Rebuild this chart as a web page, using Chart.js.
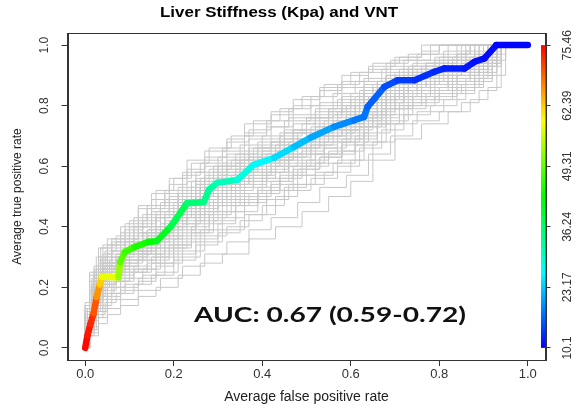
<!DOCTYPE html>
<html><head><meta charset="utf-8">
<script src="https://cdn.jsdelivr.net/npm/chart.js@4.4.1/dist/chart.umd.min.js"></script>
<style>html,body{margin:0;padding:0;background:#fff;} #wrap{width:575px;height:408px;}</style>
</head><body><div id="wrap"><canvas id="c" width="575" height="408"></canvas></div>
<script>
const chartTitle = 'Liver Stiffness (Kpa) and VNT';
const xTitle = 'Average false positive rate';
const yTitle = 'Average true positive rate';
const aucLabel = 'AUC: 0.67 (0.59-0.72)';
const xTickValues = [0, 0.2, 0.4, 0.6, 0.8, 1.0];
const xTickLabels = ['0.0', '0.2', '0.4', '0.6', '0.8', '1.0'];
const yTickValues = [0, 0.2, 0.4, 0.6, 0.8, 1.0];
const yTickLabels = ['0.0', '0.2', '0.4', '0.6', '0.8', '1.0'];
const cutoffTickValues = [10.1, 23.17, 36.24, 49.31, 62.39, 75.46];
const cutoffTickLabels = ['10.1', '23.17', '36.24', '49.31', '62.39', '75.46'];

const mainFpr = [0, 0.005, 0.012, 0.019, 0.026, 0.033, 0.038, 0.075, 0.079, 0.09, 0.113, 0.143, 0.162, 0.193, 0.23, 0.268, 0.28, 0.298, 0.344, 0.381, 0.427, 0.472, 0.51, 0.562, 0.608, 0.63, 0.638, 0.676, 0.706, 0.744, 0.789, 0.812, 0.857, 0.88, 0.902, 0.929, 1.0];
const mainTpr = [0, 0.04, 0.08, 0.114, 0.168, 0.21, 0.235, 0.233, 0.284, 0.317, 0.334, 0.35, 0.353, 0.40, 0.478, 0.482, 0.523, 0.545, 0.555, 0.605, 0.628, 0.664, 0.695, 0.73, 0.752, 0.763, 0.796, 0.862, 0.884, 0.884, 0.912, 0.923, 0.923, 0.945, 0.956, 1.0, 1.0];
const mainCutoff = [75.46, 74.5, 73.5, 72, 68, 64, 60.4, 55, 49.6, 47.2, 45.5, 43.3, 42.2, 39.5, 36, 34.6, 33.3, 31.9, 29.7, 27, 25.1, 23.2, 21.5, 19.9, 18.3, 17.7, 17.2, 15.5, 14.5, 13.6, 12.8, 12.3, 11.7, 11.2, 10.9, 10.4, 10.1];

const bootstrapCurves = [
 [[0,0],[0,0.06],[0.01,0.16],[0.02,0.27],[0.035,0.33],[0.06,0.36],[0.09,0.41],[0.12,0.47],[0.15,0.51],[0.19,0.56],[0.23,0.62],[0.27,0.65],[0.32,0.69],[0.36,0.74],[0.42,0.78],[0.47,0.82],[0.53,0.86],[0.58,0.9],[0.64,0.93],[0.7,0.96],[0.76,0.98],[0.8,1.0],[1,1]],
 [[0,0],[0.01,0.04],[0.03,0.08],[0.05,0.11],[0.08,0.14],[0.12,0.17],[0.16,0.2],[0.21,0.24],[0.26,0.28],[0.31,0.31],[0.37,0.36],[0.43,0.40],[0.49,0.45],[0.55,0.5],[0.6,0.55],[0.65,0.62],[0.7,0.69],[0.76,0.74],[0.82,0.78],[0.87,0.82],[0.91,0.86],[0.94,1.0],[1,1]],
 [[0,0],[0,0.1],[0.015,0.2],[0.03,0.28],[0.05,0.3],[0.08,0.34],[0.11,0.38],[0.15,0.43],[0.19,0.49],[0.24,0.55],[0.29,0.6],[0.34,0.64],[0.39,0.68],[0.45,0.72],[0.5,0.76],[0.56,0.8],[0.62,0.85],[0.68,0.9],[0.73,0.93],[0.79,0.95],[0.84,0.97],[0.87,1.0],[1,1]],
 [[0,0],[0.005,0.08],[0.02,0.15],[0.04,0.19],[0.07,0.22],[0.1,0.25],[0.14,0.28],[0.18,0.32],[0.22,0.37],[0.27,0.41],[0.31,0.45],[0.36,0.5],[0.42,0.55],[0.47,0.59],[0.53,0.63],[0.58,0.67],[0.63,0.73],[0.68,0.79],[0.73,0.82],[0.79,0.85],[0.84,0.88],[0.89,0.92],[0.92,1.0],[1,1]],
 [[0,0],[0,0.09],[0.02,0.21],[0.035,0.26],[0.06,0.28],[0.09,0.33],[0.13,0.37],[0.17,0.41],[0.21,0.46],[0.26,0.52],[0.3,0.57],[0.35,0.6],[0.4,0.64],[0.46,0.68],[0.52,0.72],[0.57,0.76],[0.63,0.82],[0.68,0.88],[0.74,0.91],[0.8,0.93],[0.86,0.95],[0.89,1.0],[1,1]],
 [[0,0],[0.005,0.1],[0.02,0.18],[0.04,0.23],[0.07,0.26],[0.1,0.29],[0.14,0.32],[0.18,0.37],[0.22,0.42],[0.27,0.47],[0.32,0.52],[0.38,0.56],[0.43,0.6],[0.48,0.64],[0.54,0.68],[0.6,0.72],[0.65,0.78],[0.7,0.84],[0.76,0.87],[0.82,0.9],[0.87,0.93],[0.91,0.96],[0.93,1.0],[1,1]],
 [[0,0],[0,0.12],[0.01,0.22],[0.025,0.3],[0.04,0.34],[0.07,0.37],[0.1,0.42],[0.14,0.47],[0.18,0.52],[0.22,0.58],[0.27,0.62],[0.31,0.66],[0.36,0.71],[0.41,0.75],[0.46,0.79],[0.51,0.83],[0.57,0.87],[0.62,0.91],[0.68,0.94],[0.73,0.97],[0.78,1.0],[1,1]],
 [[0,0],[0.01,0.06],[0.025,0.11],[0.045,0.15],[0.07,0.18],[0.11,0.21],[0.15,0.24],[0.2,0.29],[0.25,0.34],[0.3,0.38],[0.35,0.42],[0.4,0.47],[0.45,0.52],[0.51,0.56],[0.57,0.6],[0.62,0.66],[0.67,0.72],[0.72,0.77],[0.78,0.8],[0.84,0.84],[0.88,0.88],[0.92,0.93],[0.94,1.0],[1,1]],
 [[0,0],[0,0.08],[0.02,0.19],[0.04,0.25],[0.065,0.27],[0.09,0.31],[0.13,0.34],[0.17,0.39],[0.22,0.45],[0.26,0.5],[0.31,0.54],[0.37,0.58],[0.42,0.63],[0.48,0.66],[0.53,0.7],[0.59,0.74],[0.64,0.79],[0.69,0.85],[0.75,0.88],[0.81,0.91],[0.86,0.93],[0.9,0.97],[0.92,1.0],[1,1]],
 [[0,0],[0,0.11],[0.015,0.23],[0.03,0.27],[0.05,0.31],[0.08,0.33],[0.12,0.38],[0.16,0.43],[0.2,0.48],[0.24,0.53],[0.28,0.59],[0.33,0.62],[0.38,0.66],[0.44,0.7],[0.49,0.74],[0.55,0.78],[0.6,0.82],[0.66,0.88],[0.72,0.92],[0.77,0.94],[0.83,0.96],[0.88,1.0],[1,1]],
 [[0,0],[0.01,0.1],[0.025,0.17],[0.045,0.21],[0.07,0.24],[0.11,0.27],[0.15,0.3],[0.19,0.34],[0.24,0.4],[0.28,0.44],[0.33,0.48],[0.39,0.53],[0.44,0.57],[0.5,0.62],[0.55,0.65],[0.61,0.7],[0.66,0.76],[0.71,0.81],[0.77,0.84],[0.83,0.87],[0.88,0.9],[0.92,0.94],[0.94,1.0],[1,1]],
 [[0,0],[0,0.14],[0.02,0.25],[0.04,0.31],[0.06,0.34],[0.09,0.39],[0.13,0.44],[0.17,0.48],[0.21,0.53],[0.25,0.58],[0.3,0.63],[0.35,0.67],[0.4,0.7],[0.45,0.75],[0.51,0.8],[0.56,0.84],[0.61,0.88],[0.67,0.92],[0.72,0.95],[0.78,0.97],[0.82,1.0],[1,1]],
 [[0,0],[0.005,0.05],[0.02,0.12],[0.035,0.17],[0.06,0.2],[0.09,0.23],[0.13,0.26],[0.17,0.3],[0.21,0.35],[0.26,0.39],[0.31,0.43],[0.36,0.48],[0.41,0.52],[0.47,0.57],[0.52,0.61],[0.58,0.65],[0.63,0.71],[0.69,0.77],[0.74,0.81],[0.8,0.84],[0.85,0.87],[0.9,0.91],[0.93,1.0],[1,1]],
 [[0,0],[0,0.07],[0.015,0.17],[0.03,0.24],[0.055,0.29],[0.08,0.31],[0.11,0.36],[0.16,0.4],[0.2,0.45],[0.25,0.51],[0.29,0.55],[0.34,0.59],[0.39,0.63],[0.45,0.67],[0.5,0.71],[0.56,0.75],[0.61,0.79],[0.66,0.85],[0.71,0.89],[0.77,0.91],[0.83,0.94],[0.88,0.96],[0.91,1.0],[1,1]],
 [[0,0],[0.005,0.12],[0.02,0.2],[0.04,0.24],[0.06,0.26],[0.1,0.3],[0.14,0.33],[0.19,0.38],[0.23,0.43],[0.28,0.48],[0.33,0.53],[0.38,0.57],[0.43,0.61],[0.49,0.65],[0.54,0.69],[0.6,0.73],[0.65,0.77],[0.7,0.83],[0.76,0.86],[0.82,0.89],[0.87,0.92],[0.91,0.95],[0.93,1.0],[1,1]],
 [[0,0],[0,0.15],[0.01,0.25],[0.03,0.33],[0.05,0.36],[0.08,0.4],[0.12,0.46],[0.16,0.52],[0.2,0.56],[0.24,0.61],[0.28,0.66],[0.33,0.7],[0.38,0.75],[0.44,0.79],[0.49,0.83],[0.54,0.87],[0.6,0.91],[0.65,0.94],[0.71,0.96],[0.76,1.0],[1,1]],
 [[0,0],[0.01,0.05],[0.03,0.1],[0.05,0.13],[0.08,0.16],[0.12,0.19],[0.17,0.23],[0.22,0.27],[0.27,0.31],[0.32,0.35],[0.37,0.39],[0.42,0.43],[0.48,0.48],[0.53,0.53],[0.59,0.57],[0.64,0.64],[0.69,0.7],[0.74,0.75],[0.8,0.78],[0.85,0.81],[0.89,0.85],[0.93,0.9],[0.95,1.0],[1,1]],
 [[0,0],[0,0.13],[0.02,0.22],[0.04,0.28],[0.07,0.31],[0.1,0.35],[0.14,0.39],[0.18,0.44],[0.23,0.5],[0.27,0.56],[0.32,0.6],[0.37,0.63],[0.43,0.67],[0.48,0.71],[0.54,0.75],[0.59,0.8],[0.65,0.86],[0.7,0.9],[0.75,0.92],[0.81,0.95],[0.86,0.97],[0.89,1.0],[1,1]],
 [[0,0],[0.005,0.09],[0.02,0.16],[0.035,0.2],[0.06,0.23],[0.09,0.27],[0.12,0.3],[0.17,0.35],[0.21,0.4],[0.25,0.45],[0.3,0.5],[0.36,0.54],[0.41,0.58],[0.46,0.62],[0.52,0.66],[0.57,0.7],[0.62,0.75],[0.67,0.81],[0.72,0.84],[0.78,0.87],[0.84,0.9],[0.89,0.93],[0.92,0.97],[0.94,1.0],[1,1]],
 [[0,0],[0,0.1],[0.01,0.19],[0.025,0.26],[0.045,0.32],[0.07,0.35],[0.11,0.4],[0.15,0.45],[0.19,0.5],[0.23,0.55],[0.27,0.6],[0.32,0.64],[0.37,0.69],[0.42,0.73],[0.47,0.77],[0.53,0.81],[0.58,0.86],[0.63,0.89],[0.69,0.93],[0.75,0.95],[0.81,0.98],[0.85,1.0],[1,1]],
 [[0,0],[0.01,0.07],[0.03,0.13],[0.05,0.17],[0.08,0.2],[0.12,0.23],[0.16,0.27],[0.2,0.31],[0.25,0.36],[0.3,0.41],[0.34,0.45],[0.39,0.49],[0.45,0.53],[0.5,0.57],[0.56,0.61],[0.61,0.67],[0.66,0.74],[0.72,0.79],[0.77,0.82],[0.83,0.85],[0.88,0.89],[0.91,0.93],[0.93,1.0],[1,1]],
 [[0,0],[0,0.11],[0.015,0.2],[0.035,0.24],[0.06,0.28],[0.1,0.32],[0.15,0.36],[0.19,0.42],[0.23,0.47],[0.28,0.52],[0.33,0.56],[0.38,0.6],[0.44,0.64],[0.49,0.68],[0.55,0.72],[0.6,0.76],[0.66,0.82],[0.71,0.87],[0.76,0.89],[0.82,0.92],[0.87,0.94],[0.9,0.98],[0.92,1.0],[1,1]],
 [[0,0],[0,0.1],[0.02,0.24],[0.04,0.3],[0.06,0.35],[0.1,0.4],[0.14,0.46],[0.18,0.51],[0.22,0.57],[0.26,0.61],[0.31,0.65],[0.36,0.7],[0.41,0.73],[0.46,0.76],[0.52,0.79],[0.57,0.82],[0.63,0.86],[0.68,0.9],[0.74,0.93],[0.8,0.96],[0.85,0.98],[0.87,1.0],[1,1]],
 [[0,0],[0.01,0.08],[0.025,0.14],[0.05,0.18],[0.08,0.22],[0.11,0.25],[0.15,0.28],[0.2,0.33],[0.24,0.38],[0.29,0.42],[0.34,0.47],[0.39,0.51],[0.44,0.56],[0.49,0.61],[0.54,0.66],[0.59,0.71],[0.64,0.77],[0.69,0.83],[0.75,0.87],[0.8,0.9],[0.85,0.93],[0.89,0.96],[0.91,1.0],[1,1]],
 [[0,0],[0,0.06],[0.02,0.16],[0.04,0.26],[0.07,0.29],[0.1,0.34],[0.14,0.37],[0.18,0.4],[0.22,0.46],[0.27,0.51],[0.31,0.56],[0.36,0.59],[0.41,0.62],[0.47,0.66],[0.52,0.7],[0.58,0.73],[0.63,0.78],[0.68,0.84],[0.73,0.87],[0.79,0.9],[0.85,0.92],[0.9,0.95],[0.93,1.0],[1,1]],
 [[0,0],[0.005,0.13],[0.02,0.22],[0.045,0.27],[0.07,0.3],[0.1,0.33],[0.13,0.38],[0.17,0.43],[0.21,0.48],[0.25,0.54],[0.3,0.58],[0.35,0.62],[0.4,0.65],[0.45,0.69],[0.51,0.73],[0.56,0.77],[0.62,0.81],[0.67,0.86],[0.73,0.9],[0.78,0.92],[0.84,0.95],[0.88,0.97],[0.9,1.0],[1,1]],
 [[0,0],[0,0.05],[0.015,0.14],[0.03,0.2],[0.055,0.25],[0.08,0.27],[0.12,0.31],[0.16,0.34],[0.2,0.39],[0.25,0.44],[0.29,0.49],[0.34,0.55],[0.4,0.58],[0.45,0.63],[0.5,0.67],[0.56,0.71],[0.61,0.76],[0.66,0.81],[0.72,0.86],[0.77,0.88],[0.83,0.91],[0.88,0.94],[0.92,0.98],[0.94,1.0],[1,1]],
 [[0,0],[0,0.12],[0.02,0.26],[0.035,0.29],[0.06,0.32],[0.09,0.36],[0.12,0.41],[0.16,0.45],[0.21,0.51],[0.25,0.56],[0.29,0.58],[0.34,0.61],[0.39,0.66],[0.44,0.71],[0.5,0.75],[0.55,0.79],[0.6,0.84],[0.65,0.87],[0.7,0.91],[0.76,0.93],[0.82,0.95],[0.86,0.98],[0.88,1.0],[1,1]],
 [[0,0],[0.01,0.11],[0.025,0.19],[0.05,0.22],[0.08,0.25],[0.12,0.29],[0.16,0.33],[0.2,0.36],[0.25,0.42],[0.3,0.47],[0.35,0.51],[0.4,0.55],[0.46,0.6],[0.51,0.64],[0.57,0.68],[0.62,0.73],[0.67,0.79],[0.72,0.83],[0.78,0.86],[0.83,0.88],[0.88,0.91],[0.92,0.95],[0.94,1.0],[1,1]],
 [[0,0],[0,0.09],[0.015,0.21],[0.04,0.27],[0.06,0.3],[0.09,0.35],[0.13,0.4],[0.17,0.46],[0.21,0.51],[0.26,0.56],[0.31,0.61],[0.36,0.65],[0.42,0.68],[0.47,0.72],[0.53,0.77],[0.58,0.8],[0.63,0.84],[0.69,0.88],[0.74,0.91],[0.8,0.93],[0.85,0.96],[0.88,1.0],[1,1]],
 [[0,0],[0,0.1],[0.01,0.18],[0.03,0.25],[0.05,0.28],[0.08,0.3],[0.11,0.33],[0.15,0.38],[0.2,0.43],[0.24,0.47],[0.28,0.53],[0.33,0.57],[0.38,0.61],[0.43,0.65],[0.48,0.69],[0.54,0.73],[0.59,0.77],[0.64,0.83],[0.7,0.87],[0.75,0.9],[0.81,0.92],[0.86,0.95],[0.9,1.0],[1,1]],
 [[0,0],[0.005,0.07],[0.015,0.15],[0.035,0.22],[0.055,0.24],[0.085,0.28],[0.12,0.32],[0.16,0.36],[0.21,0.41],[0.26,0.46],[0.3,0.51],[0.35,0.55],[0.41,0.59],[0.46,0.63],[0.51,0.67],[0.57,0.72],[0.62,0.77],[0.68,0.82],[0.73,0.86],[0.78,0.89],[0.84,0.91],[0.89,0.94],[0.92,1.0],[1,1]],
 [[0,0],[0,0.13],[0.02,0.23],[0.035,0.28],[0.06,0.32],[0.1,0.37],[0.13,0.42],[0.17,0.47],[0.22,0.52],[0.27,0.57],[0.32,0.62],[0.37,0.66],[0.42,0.69],[0.47,0.74],[0.52,0.78],[0.58,0.83],[0.63,0.87],[0.68,0.91],[0.74,0.94],[0.79,0.96],[0.84,1.0],[1,1]],
 [[0,0],[0.01,0.09],[0.03,0.16],[0.05,0.2],[0.08,0.23],[0.11,0.26],[0.16,0.31],[0.2,0.34],[0.24,0.39],[0.29,0.45],[0.34,0.49],[0.39,0.52],[0.44,0.58],[0.5,0.6],[0.55,0.64],[0.61,0.69],[0.66,0.74],[0.71,0.8],[0.76,0.85],[0.82,0.88],[0.87,0.91],[0.91,0.95],[0.93,1.0],[1,1]],
 [[0,0],[0,0.11],[0.02,0.2],[0.04,0.26],[0.07,0.3],[0.1,0.32],[0.14,0.36],[0.18,0.42],[0.22,0.47],[0.26,0.53],[0.31,0.57],[0.36,0.62],[0.41,0.64],[0.47,0.69],[0.52,0.73],[0.57,0.78],[0.62,0.82],[0.67,0.87],[0.72,0.9],[0.77,0.93],[0.83,0.95],[0.88,0.98],[0.9,1.0],[1,1]],
 [[0,0],[0.005,0.06],[0.02,0.13],[0.04,0.18],[0.065,0.22],[0.1,0.26],[0.14,0.29],[0.19,0.33],[0.23,0.38],[0.28,0.43],[0.32,0.47],[0.37,0.51],[0.42,0.54],[0.48,0.59],[0.53,0.63],[0.58,0.68],[0.64,0.74],[0.69,0.79],[0.74,0.83],[0.8,0.86],[0.86,0.89],[0.9,0.93],[0.93,0.97],[0.95,1.0],[1,1]],
 [[0,0],[0,0.14],[0.01,0.24],[0.03,0.29],[0.05,0.33],[0.08,0.38],[0.11,0.43],[0.15,0.49],[0.19,0.54],[0.23,0.59],[0.27,0.63],[0.32,0.68],[0.37,0.72],[0.42,0.77],[0.47,0.8],[0.53,0.85],[0.58,0.88],[0.64,0.92],[0.69,0.95],[0.75,0.97],[0.8,1.0],[1,1]],
 [[0,0],[0.01,0.12],[0.025,0.21],[0.045,0.25],[0.07,0.27],[0.1,0.31],[0.15,0.35],[0.19,0.4],[0.23,0.44],[0.27,0.49],[0.32,0.54],[0.37,0.57],[0.42,0.62],[0.47,0.66],[0.53,0.7],[0.58,0.74],[0.63,0.8],[0.68,0.86],[0.74,0.89],[0.8,0.91],[0.85,0.94],[0.89,0.97],[0.92,1.0],[1,1]],
 [[0,0],[0,0.08],[0.015,0.19],[0.03,0.22],[0.05,0.26],[0.08,0.29],[0.12,0.34],[0.16,0.38],[0.2,0.44],[0.25,0.49],[0.3,0.53],[0.35,0.58],[0.4,0.62],[0.46,0.66],[0.51,0.71],[0.56,0.74],[0.61,0.8],[0.66,0.86],[0.71,0.88],[0.76,0.91],[0.82,0.93],[0.87,0.96],[0.9,1.0],[1,1]],
 [[0,0],[0.005,0.04],[0.02,0.1],[0.04,0.14],[0.06,0.18],[0.09,0.21],[0.13,0.24],[0.18,0.28],[0.22,0.32],[0.27,0.37],[0.32,0.4],[0.37,0.44],[0.43,0.5],[0.48,0.54],[0.54,0.58],[0.6,0.62],[0.65,0.68],[0.7,0.74],[0.75,0.78],[0.81,0.82],[0.86,0.86],[0.9,0.9],[0.93,0.95],[0.95,1.0],[1,1]],
 [[0,0],[0,0.1],[0.02,0.22],[0.03,0.3],[0.05,0.34],[0.08,0.36],[0.12,0.4],[0.16,0.44],[0.21,0.49],[0.26,0.54],[0.3,0.6],[0.35,0.63],[0.4,0.67],[0.45,0.71],[0.5,0.76],[0.55,0.79],[0.61,0.83],[0.66,0.88],[0.71,0.92],[0.77,0.94],[0.82,0.97],[0.86,1.0],[1,1]],
 [[0,0],[0.01,0.08],[0.02,0.14],[0.04,0.21],[0.07,0.25],[0.1,0.28],[0.13,0.31],[0.18,0.36],[0.22,0.41],[0.27,0.45],[0.31,0.49],[0.36,0.53],[0.41,0.56],[0.47,0.6],[0.52,0.64],[0.58,0.69],[0.63,0.75],[0.68,0.8],[0.74,0.85],[0.79,0.88],[0.84,0.9],[0.89,0.93],[0.92,0.96],[0.94,1.0],[1,1]],
 [[0,0],[0,0.12],[0.015,0.21],[0.035,0.25],[0.055,0.27],[0.09,0.32],[0.13,0.35],[0.17,0.4],[0.21,0.46],[0.25,0.5],[0.29,0.55],[0.34,0.58],[0.39,0.61],[0.44,0.66],[0.5,0.7],[0.55,0.74],[0.6,0.78],[0.66,0.83],[0.71,0.86],[0.77,0.89],[0.82,0.92],[0.87,0.94],[0.91,0.97],[0.93,1.0],[1,1]],
 [[0,0],[0,0.07],[0.01,0.15],[0.025,0.22],[0.05,0.27],[0.07,0.29],[0.1,0.34],[0.14,0.39],[0.18,0.45],[0.22,0.51],[0.27,0.55],[0.32,0.59],[0.37,0.64],[0.42,0.68],[0.47,0.72],[0.52,0.76],[0.58,0.81],[0.63,0.85],[0.68,0.89],[0.73,0.92],[0.79,0.94],[0.84,0.97],[0.87,1.0],[1,1]],
 [[0,0],[0.01,0.06],[0.03,0.12],[0.05,0.16],[0.08,0.19],[0.12,0.22],[0.16,0.25],[0.21,0.3],[0.26,0.35],[0.31,0.39],[0.36,0.44],[0.41,0.49],[0.46,0.54],[0.52,0.58],[0.57,0.62],[0.63,0.68],[0.68,0.75],[0.73,0.8],[0.79,0.83],[0.84,0.86],[0.89,0.89],[0.92,0.94],[0.94,1.0],[1,1]],
 [[0,0],[0,0.09],[0.02,0.17],[0.04,0.23],[0.06,0.25],[0.09,0.29],[0.13,0.33],[0.17,0.37],[0.22,0.43],[0.26,0.48],[0.31,0.52],[0.36,0.56],[0.41,0.6],[0.46,0.64],[0.51,0.68],[0.57,0.72],[0.62,0.76],[0.67,0.82],[0.72,0.87],[0.78,0.9],[0.83,0.92],[0.88,0.95],[0.91,1.0],[1,1]]
];

const cutMin = cutoffTickValues[0];
const cutMax = cutoffTickValues[cutoffTickValues.length - 1];
function cutoffColor(c) {
  let t = (c - cutMin) / (cutMax - cutMin);
  t = Math.max(0, Math.min(1, t));
  const hue = 240 * (1 - t);
  return 'hsl(' + hue.toFixed(1) + ',100%,50%)';
}

const FONT = '"Liberation Sans", Arial, sans-serif';
Chart.defaults.font.family = FONT;
Chart.defaults.color = '#333';

const datasets = [];
datasets.push({
  label: 'mean',
  data: mainFpr.map((x, i) => ({x: x, y: mainTpr[i]})),
  borderWidth: 6.5,
  borderCapStyle: 'round',
  borderJoinStyle: 'round',
  pointRadius: 0,
  tension: 0,
  order: 0,
  borderColor: '#0000ff',
  segment: {
    borderColor: ctx => cutoffColor((mainCutoff[ctx.p0DataIndex] + mainCutoff[ctx.p1DataIndex]) / 2)
  }
});
bootstrapCurves.forEach((curve, k) => {
  datasets.push({
    label: 'boot' + k,
    data: curve.map(p => ({x: p[0], y: p[1]})),
    borderColor: '#c8c8c8',
    borderWidth: 1,
    pointRadius: 0,
    stepped: 'before',
    order: 1
  });
});

const yRange = [-0.04, 1.04];
const cutSpan = cutMax - cutMin;
const y2Min = cutMin + yRange[0] * cutSpan;
const y2Max = cutMin + yRange[1] * cutSpan;

const decorPlugin = {
  id: 'decor',
  afterDatasetsDraw(chart) {
    const {ctx, chartArea, scales} = chart;
    const s = scales.y2;
    const top = s.getPixelForValue(cutMax);
    const bot = s.getPixelForValue(cutMin);
    const g = ctx.createLinearGradient(0, bot, 0, top);
    for (let i = 0; i <= 24; i++) {
      const f = i / 24;
      g.addColorStop(f, cutoffColor(cutMin + f * cutSpan));
    }
    ctx.save();
    ctx.fillStyle = g;
    ctx.fillRect(chartArea.right - 4.5, top, 4.5, bot - top);
    ctx.restore();
  },
  afterDraw(chart) {
    const {ctx, chartArea, scales} = chart;
    ctx.save();
    ctx.strokeStyle = '#333';
    ctx.lineWidth = 1;
    ctx.strokeRect(Math.round(chartArea.left) + 0.5, Math.round(chartArea.top) + 0.5,
      Math.round(chartArea.right - chartArea.left), Math.round(chartArea.bottom - chartArea.top));
    ctx.font = 'bold 14px ' + FONT;
    let w = ctx.measureText(chartTitle).width;
    ctx.translate(279, 13);
    ctx.scale(238 / w, 1);
    ctx.textAlign = 'center';
    ctx.textBaseline = 'middle';
    ctx.fillStyle = '#000';
    ctx.fillText(chartTitle, 0, 0);
    ctx.restore();
    ctx.save();
    ctx.font = 'bold 20px Lato, "Open Sans", sans-serif';
    w = ctx.measureText(aucLabel).width;
    ctx.translate(scales.x.getPixelForValue(0.553), scales.y.getPixelForValue(0.108));
    ctx.scale(272 / w, 1);
    ctx.textAlign = 'center';
    ctx.textBaseline = 'middle';
    ctx.fillStyle = '#111';
    ctx.fillText(aucLabel, 0, 0);
    ctx.restore();
  }
};

new Chart(document.getElementById('c'), {
  type: 'line',
  data: { datasets: datasets },
  options: {
    responsive: false,
    animation: false,
    events: [],
    layout: { padding: { top: 33, left: 0, right: 0, bottom: 0 } },
    plugins: { legend: { display: false }, tooltip: { enabled: false }, title: { display: false } },
    scales: {
      x: {
        type: 'linear', min: -0.04, max: 1.04,
        afterBuildTicks: s => { s.ticks = xTickValues.map(v => ({value: v})); },
        afterFit: s => { s.height = 48; },
        ticks: { callback: (v, i) => xTickLabels[i], font: { size: 13 }, color: '#333', padding: 1, maxRotation: 0 },
        grid: { drawOnChartArea: false, drawTicks: true, tickLength: 6, color: '#333' },
        border: { display: true, color: '#333' },
        title: { display: true, text: xTitle, font: { size: 14 }, color: '#222', padding: { top: 0, bottom: 2 } }
      },
      y: {
        type: 'linear', position: 'left', min: yRange[0], max: yRange[1],
        afterBuildTicks: s => { s.ticks = yTickValues.map(v => ({value: v})); },
        afterFit: s => { s.width = 67.5; },
        ticks: { callback: (v, i) => yTickLabels[i], font: { size: 12 }, color: '#333', padding: 8, minRotation: 90, maxRotation: 90, crossAlign: 'center' },
        grid: { drawOnChartArea: false, drawTicks: true, tickLength: 6, color: '#333' },
        border: { display: true, color: '#333' },
        title: { display: true, text: yTitle, font: { size: 12 }, color: '#222', padding: { top: 10, bottom: 0 } }
      },
      y2: {
        type: 'linear', position: 'right', min: y2Min, max: y2Max,
        afterBuildTicks: s => { s.ticks = cutoffTickValues.map(v => ({value: v})); },
        afterFit: s => { s.width = 29.5; },
        ticks: { callback: (v, i) => cutoffTickLabels[i], font: { size: 12 }, color: '#333', padding: 2, minRotation: 90, maxRotation: 90, crossAlign: 'center' },
        grid: { drawOnChartArea: false, drawTicks: true, tickLength: 5, color: '#333' },
        border: { display: true, color: '#333' }
      }
    }
  },
  plugins: [decorPlugin]
});
</script>
</body></html>
